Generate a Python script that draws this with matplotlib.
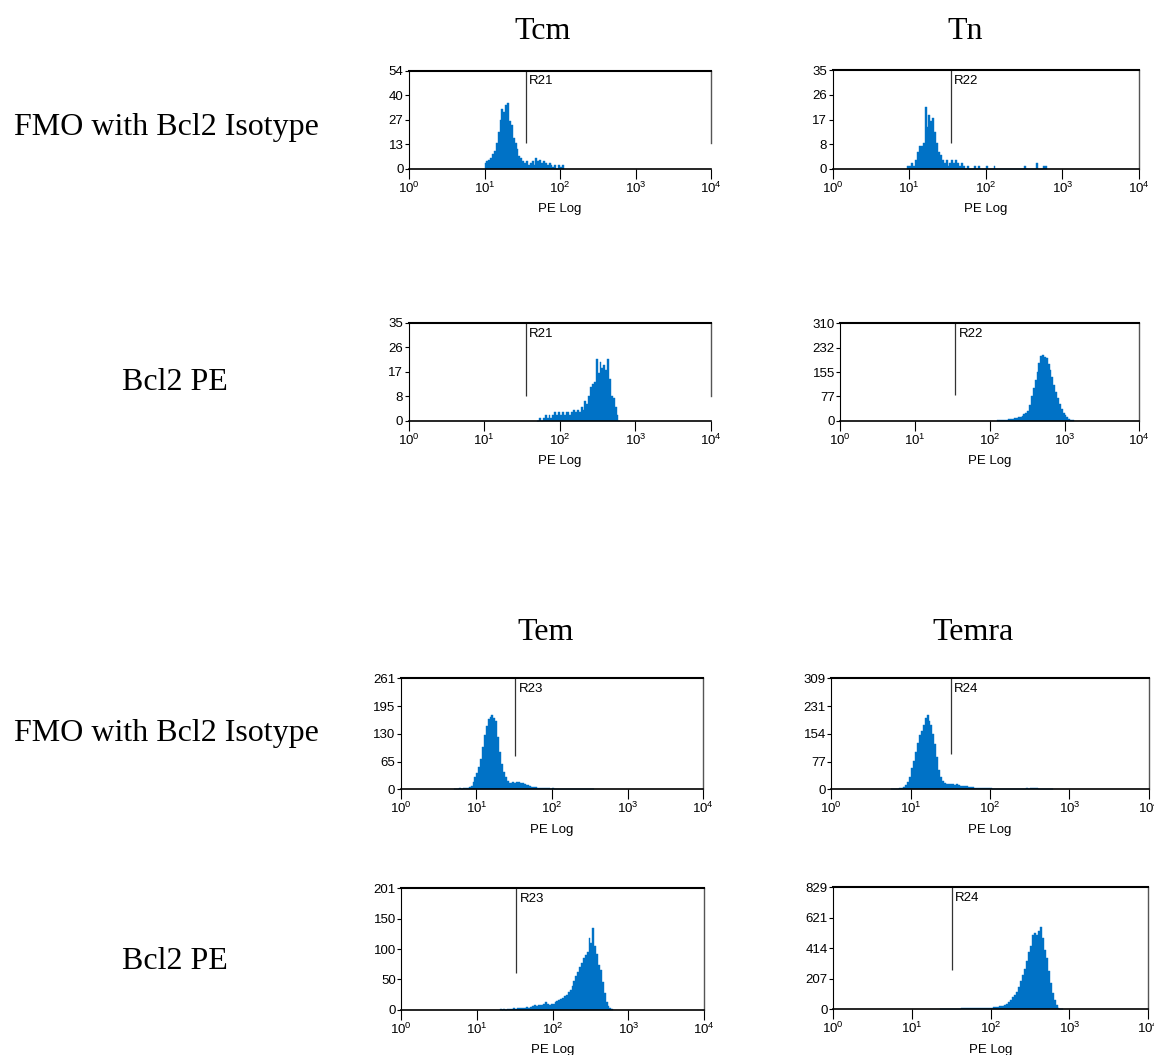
import numpy as np
import matplotlib
matplotlib.use("Agg")
import matplotlib.pyplot as plt
from matplotlib import font_manager

# Histogram counts, one value per 1/40 decade of PE, starting at 10**first
BIN = 0.025

tcm_fmo_first = 1.0
tcm_fmo_counts = [3, 4, 5, 6, 8, 10, 14, 20, 27, 33, 31, 35, 36, 26, 24, 17, 14, 11, 7, 6,
                  4, 3, 4, 2, 3, 4, 2, 6, 4, 5, 3, 4, 3, 2, 3, 2, 1, 2, 0, 2, 1, 2]

tn_fmo_first = 0.975
tn_fmo_counts = [1, 1, 2, 1, 3, 6, 8, 8, 9, 22, 15, 19, 17, 18, 13, 9, 6, 5, 3, 2,
                 3, 1, 2, 3, 2, 3, 2, 1, 2, 1, 0, 1, 0, 0, 0, 1, 0, 1, 0, 0,
                 0, 1, 0, 0, 0, 1, 0, 0, 0, 0, 0, 0, 0, 0, 0, 0, 0, 0, 0, 0,
                 0, 1, 0, 0, 0, 0, 0, 2, 0, 0, 0, 1, 1]

tcm_pe_first = 1.7
tcm_pe_counts = [0, 1, 0, 1, 2, 1, 2, 1, 2, 3, 2, 3, 2, 3, 2, 3, 3, 2, 3, 4,
                 3, 4, 3, 5, 4, 7, 6, 9, 12, 13, 14, 22, 17, 21, 19, 20, 18, 22, 15, 9,
                 8, 5, 2, 0]

tn_pe_first = 2.1
tn_pe_counts = [1, 1, 2, 2, 3, 3, 4, 5, 6, 8, 9, 11, 13, 16, 20, 25, 32, 50, 78, 105,
                130, 155, 185, 205, 208, 203, 200, 182, 160, 138, 115, 92, 72, 52, 38, 26, 18, 11, 5, 2,
                1]

tem_fmo_first = 0.7
tem_fmo_counts = [1, 1, 1, 2, 1, 2, 2, 3, 5, 8, 18, 28, 38, 52, 72, 100, 128, 150, 165, 170,
                  175, 168, 160, 122, 88, 60, 40, 28, 20, 14, 15, 16, 14, 16, 18, 14, 14, 12, 10, 9,
                  8, 6, 6, 5, 4, 4, 3, 3, 2, 2, 2, 1, 2, 1, 1, 1, 1, 1, 0, 1,
                  1, 0, 1, 0, 1, 0, 1, 0, 0, 1, 0, 0, 1, 0]

temra_fmo_first = 0.75
temra_fmo_counts = [1, 1, 2, 2, 3, 4, 7, 12, 20, 35, 58, 80, 105, 130, 151, 162, 180, 198, 207, 190,
                    180, 155, 125, 90, 55, 35, 24, 18, 16, 15, 16, 14, 13, 14, 11, 10, 9, 8, 8, 7,
                    6, 6, 5, 5, 4, 4, 3, 3, 3, 3, 3, 2, 2, 2, 2, 2, 2, 1, 2, 1,
                    2, 1, 2, 1, 2, 2, 2, 2, 3, 2, 3, 4, 4, 3, 2, 2, 2, 1, 1, 1,
                    1, 1]

tem_pe_first = 1.3
tem_pe_counts = [1, 0, 1, 0, 1, 1, 1, 2, 1, 2, 2, 3, 2, 3, 4, 3, 5, 6, 7, 6,
                 7, 8, 7, 9, 12, 10, 8, 9, 10, 12, 14, 16, 18, 20, 22, 25, 29, 33, 40, 48,
                 55, 63, 70, 78, 85, 90, 96, 118, 110, 135, 105, 92, 74, 66, 46, 28, 12, 6, 3, 1]

temra_pe_first = 1.35
temra_pe_counts = [1, 1, 2, 2, 3, 3, 4, 4, 5, 5, 5, 6, 6, 6, 7, 7, 7, 8, 8, 8,
                   9, 9, 10, 10, 11, 11, 12, 14, 16, 18, 20, 22, 25, 30, 38, 48, 62, 80, 98, 120,
                   150, 190, 235, 270, 330, 390, 430, 505, 515, 505, 530, 555, 480, 400, 345, 260, 180, 110, 60, 28,
                   12, 5, 2]

populations = ["Tcm", "Tn", "Tem", "Temra"]
row_labels = ["FMO with Bcl2 Isotype", "Bcl2 PE"]
gate_names = ["R21", "R22", "R23", "R24"]
gate_pos = [35.3, 34.7, 32.7, 31.9]
fmo_ymax = [54, 35, 261, 309]
pe_ymax = [35, 310, 201, 829]

fmo_hists = [(tcm_fmo_first, tcm_fmo_counts), (tn_fmo_first, tn_fmo_counts),
             (tem_fmo_first, tem_fmo_counts), (temra_fmo_first, temra_fmo_counts)]
pe_hists = [(tcm_pe_first, tcm_pe_counts), (tn_pe_first, tn_pe_counts),
            (tem_pe_first, tem_pe_counts), (temra_pe_first, temra_pe_counts)]

W, H = 1154, 1055
BLUE = "#0072c6"

# axes boxes in pixels: left, right, top, baseline
fmo_boxes = [(409, 711, 70.5, 168.7), (832.7, 1139, 70.3, 168.7),
             (400.7, 703.3, 678.3, 789.3), (831.3, 1148.7, 678.3, 789.3)]
pe_boxes = [(408.7, 711, 322.7, 420.7), (840.3, 1139.3, 323.3, 420.7),
            (401.3, 704, 888.3, 1009.7), (833.3, 1148, 887, 1009.3)]
fmo_gate_low = [0.26, 0.26, 0.30, 0.32]
pe_gate_low = [0.25, 0.26, 0.30, 0.32]

installed = {f.name for f in font_manager.fontManager.ttflist}
narrow = "Liberation Sans Narrow" if "Liberation Sans Narrow" in installed else "Liberation Sans"
plt.rcParams["font.family"] = [narrow, "DejaVu Sans"]
plt.rcParams["mathtext.fontset"] = "custom"
plt.rcParams["mathtext.rm"] = narrow
plt.rcParams["mathtext.it"] = narrow
plt.rcParams["mathtext.bf"] = narrow

fig = plt.figure(figsize=(W / 100, H / 100), dpi=100)


def draw_hist(box, first, counts, ymax, gate_x, gate_name, gate_low, partial_right):
    left, right, top, base = box
    ax = fig.add_axes([left / W, 1 - base / H, (right - left) / W, (base - top) / H])
    edges = 10 ** (first + BIN * np.arange(len(counts) + 1))
    heights = np.append(counts, counts[-1])
    # thin edge in the fill colour closes the seams between channels
    ax.fill_between(edges, heights, step="post", facecolor=BLUE, edgecolor=BLUE,
                    linewidth=0.3)
    ax.set_xscale("log")
    ax.set_xlim(1, 1e4)
    ax.set_ylim(0, ymax)

    ax.set_xticks([1, 10, 100, 1000, 10000])
    ax.set_xticklabels([r"$10^{%d}$" % e for e in range(5)])
    ax.xaxis.set_minor_locator(matplotlib.ticker.NullLocator())
    yt = np.linspace(0, ymax, 5)
    ax.set_yticks(yt)
    ax.set_yticklabels([str(int(np.floor(v))) for v in yt])
    ax.tick_params(axis="x", direction="out", length=7, width=0.8, pad=1.5, labelsize=9.5)
    ax.tick_params(axis="y", direction="out", length=3, width=0.8, pad=1, labelsize=9.5)
    ax.set_xlabel("PE Log", fontsize=9.5, labelpad=5.5)

    ax.spines["left"].set_linewidth(0.8)
    ax.spines["bottom"].set_linewidth(1.2)
    ax.spines["top"].set_linewidth(1.5)
    ax.spines["right"].set_linewidth(1.0)
    ax.spines["right"].set_color("#555555")
    if partial_right:
        ax.spines["right"].set_bounds(gate_low * ymax, ymax)

    ax.vlines(gate_x, gate_low * ymax, ymax, color="#333333", linewidth=0.9)
    ax.annotate(gate_name, xy=(gate_x, 1), xycoords=("data", "axes fraction"),
                xytext=(2.5, -3.5), textcoords="offset points", va="top", ha="left",
                fontsize=9.5)
    return ax


for i in range(4):
    first, counts = fmo_hists[i]
    draw_hist(fmo_boxes[i], first, counts, fmo_ymax[i], gate_pos[i], gate_names[i],
              fmo_gate_low[i], i == 0)
    first, counts = pe_hists[i]
    draw_hist(pe_boxes[i], first, counts, pe_ymax[i], gate_pos[i], gate_names[i],
              pe_gate_low[i], i == 0)

serif = dict(family="Liberation Serif", fontsize=23, va="baseline")
title_pos = [(543, 39.3), (965, 39.3), (546, 640), (973, 640)]
for name, (x, y) in zip(populations, title_pos):
    fig.text(x / W, 1 - y / H, name, ha="center", **serif)

fig.text(14 / W, 1 - 135 / H, row_labels[0], ha="left", **serif)
fig.text(122 / W, 1 - 390 / H, row_labels[1], ha="left", **serif)
fig.text(14 / W, 1 - 741 / H, row_labels[0], ha="left", **serif)
fig.text(122 / W, 1 - 969 / H, row_labels[1], ha="left", **serif)

fig.savefig("out.png", dpi=100)
